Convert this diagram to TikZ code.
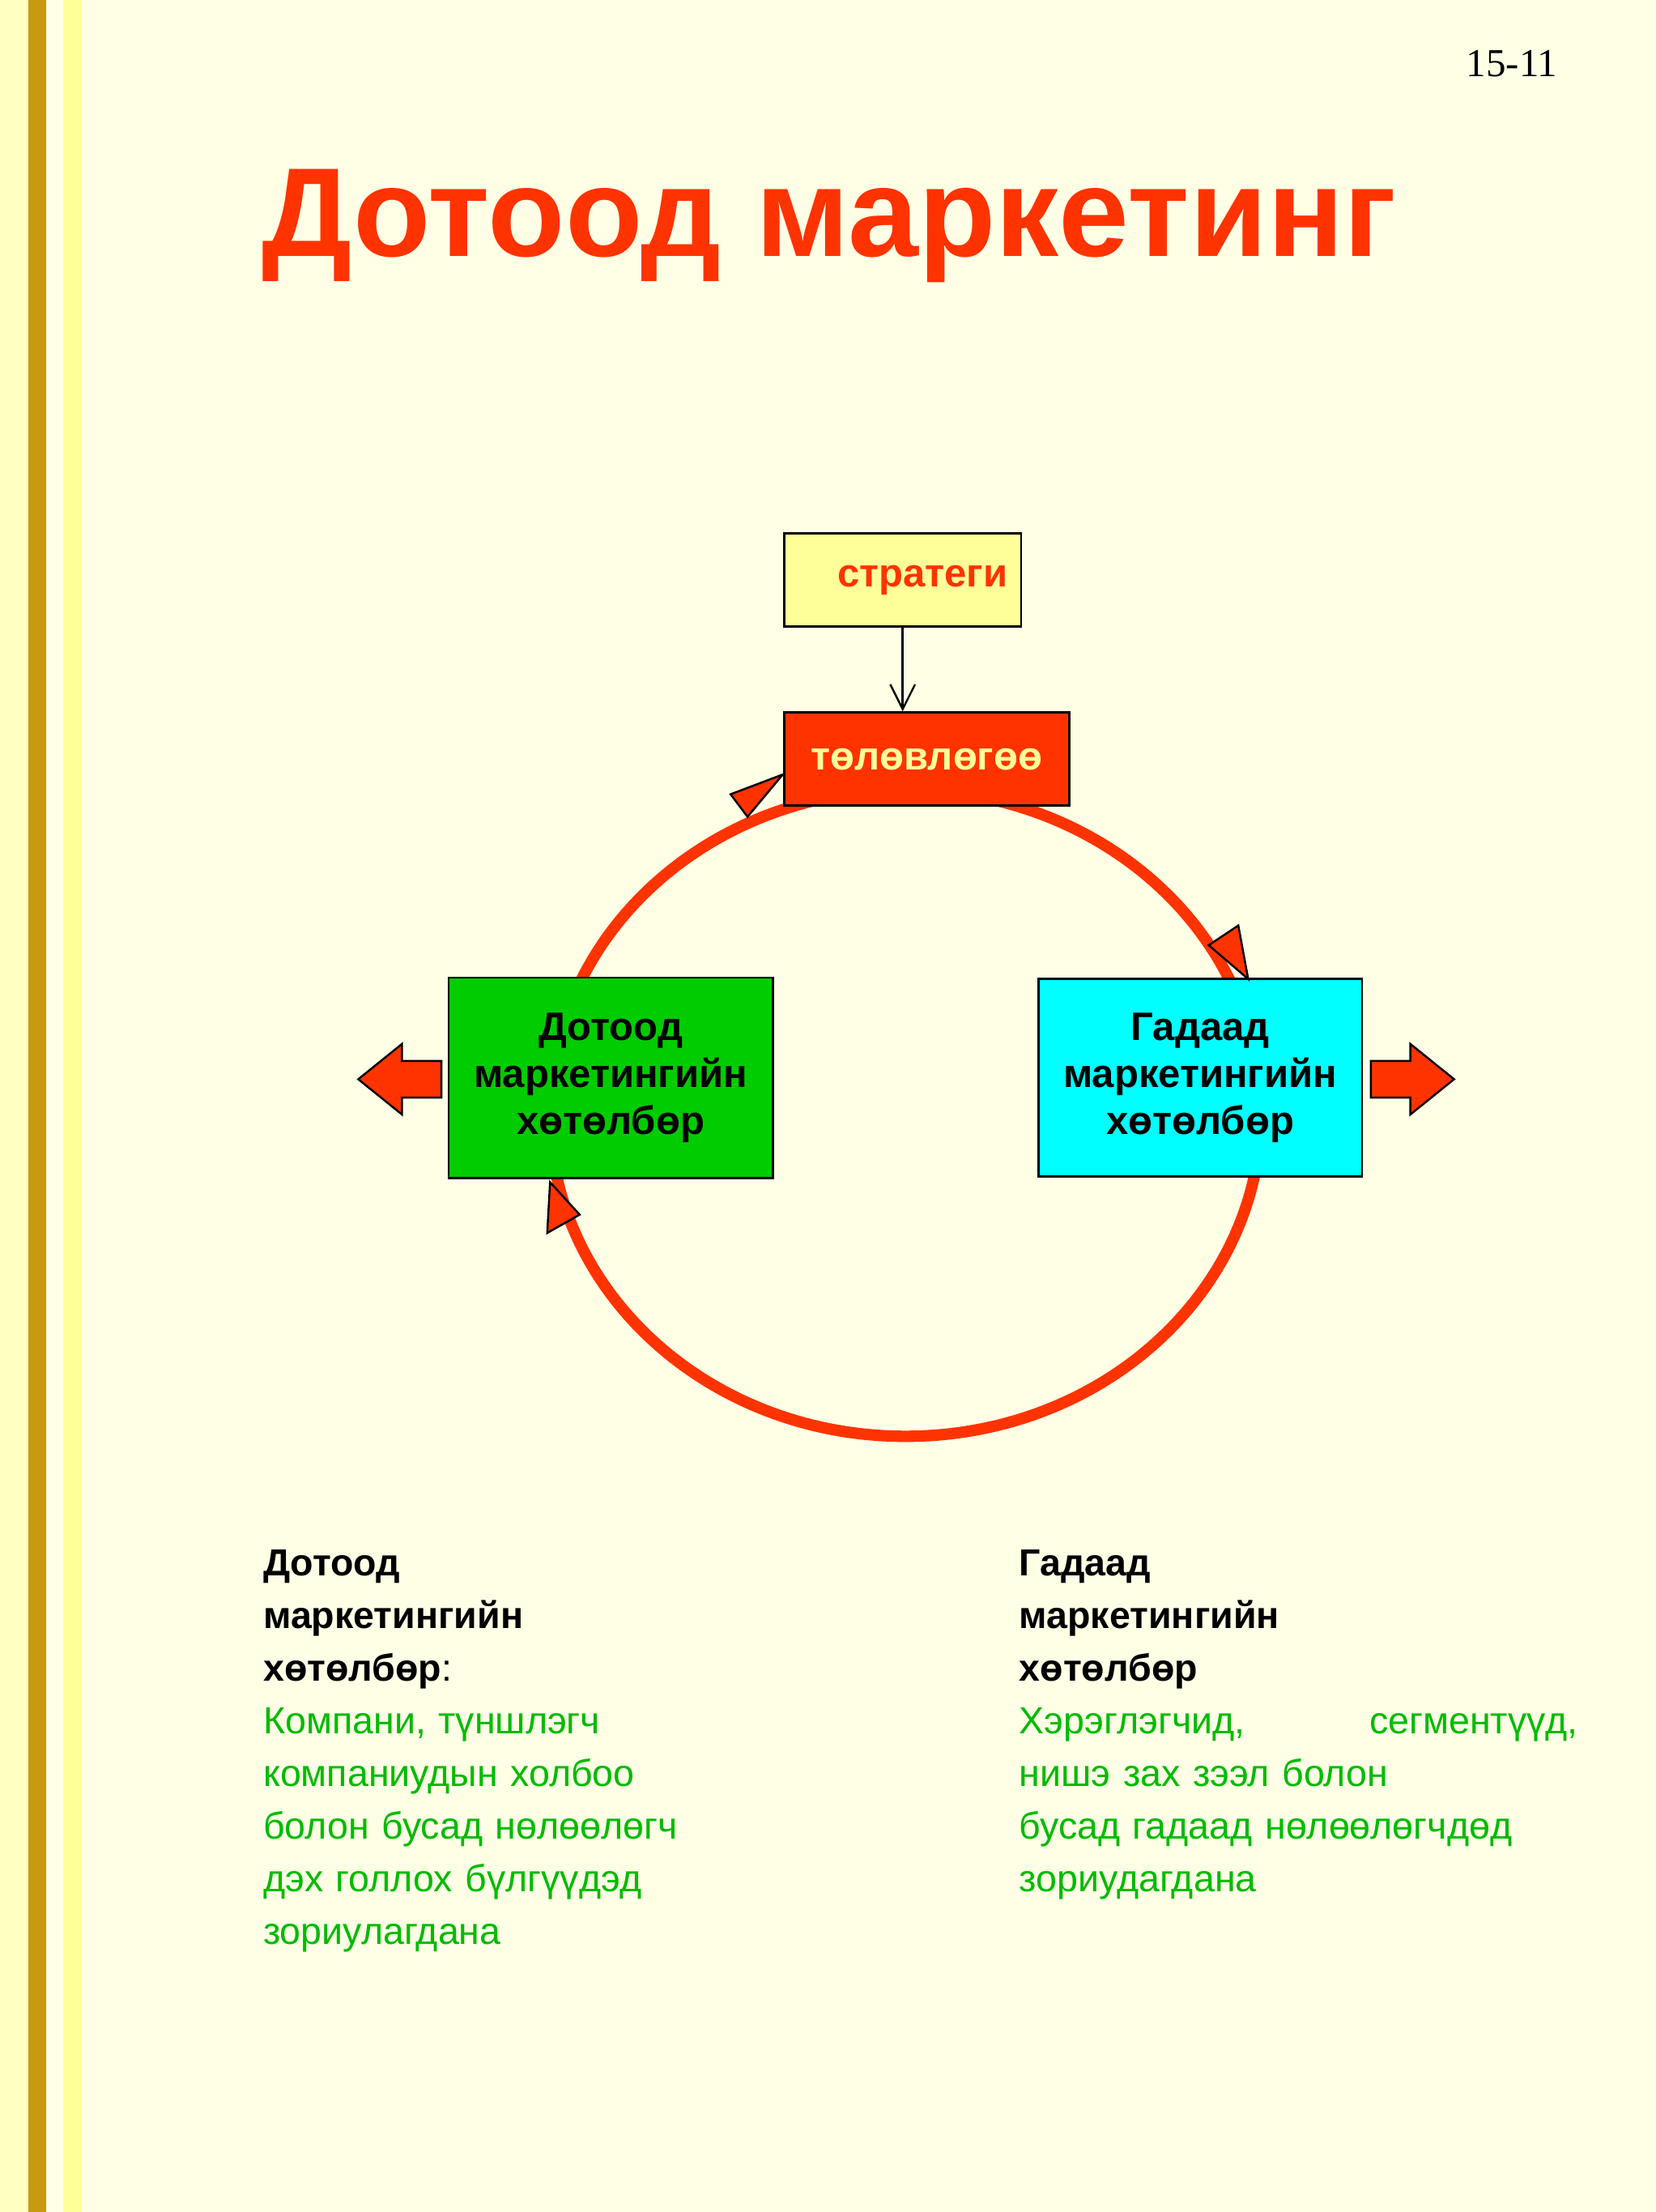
\documentclass[tikz,border=0pt]{standalone}
\usepackage{fontspec}
\setmainfont{Liberation Sans}
\newfontfamily\serifnum{Liberation Serif}
\usetikzlibrary{arrows.meta,positioning}
\definecolor{cream}{HTML}{FFFFE6}
\definecolor{gold}{HTML}{C89A10}
\definecolor{paleyel}{HTML}{FFFF99}
\definecolor{hotred}{HTML}{FF3300}
\definecolor{txtgreen}{HTML}{00BB00}
\definecolor{brightcyan}{HTML}{00FFFF}
\tikzset{
  box/.style={draw=black, line width=0.4pt, inner sep=0pt, font=\fontsize{8}{9.5}\selectfont\bfseries, align=center},
  tip/.style={fill=hotred, draw=black, line width=0.4pt},
  col/.style={anchor=north west, inner sep=0pt, align=left, font=\fontsize{7.6}{10.6}\selectfont}
}
\begin{document}
\begin{tikzpicture}[x=0.01cm, y=-0.01cm]
% page
\fill[cream] (0,0) rectangle (1174,1568);
\fill[paleyel!60] (0,0) rectangle (20,1568);
\fill[gold] (20,0) rectangle (33,1568);
\fill[paleyel] (45,0) rectangle (58,1568);
\useasboundingbox (0,0) rectangle (1174,1568);
% headings
\node[font=\serifnum\fontsize{8}{9}\selectfont] (page) at (1072,45) {15-11};
\node[anchor=west, inner sep=0pt, text=hotred, font=\fontsize{25.5}{28}\selectfont\bfseries] (title) at (185,160) {Дотоод маркетинг};
% cycle
\draw[hotred, line width=2.3pt] (642,789) ellipse [x radius=2.52cm, y radius=2.29cm];
\node[box, fill=paleyel, minimum width=1.68cm, minimum height=0.66cm, text=hotred] (strat) at (640,411) {\hspace{8pt}стратеги};
\node[box, fill=hotred, minimum width=2.02cm, minimum height=0.66cm, text=paleyel] (plan) at (657,538) {төлөвлөгөө};
\node[box, fill=green!80!black, minimum width=2.3cm, minimum height=1.42cm] (inner) at (433,764) {Дотоод\\маркетингийн\\хөтөлбөр};
\node[box, fill=brightcyan, minimum width=2.29cm, minimum height=1.4cm] (outer) at (851,764) {Гадаад\\маркетингийн\\хөтөлбөр};
\draw[-{Straight Barb[length=5pt,width=5pt]}] (strat.south -| 640,0) -- (plan.north -| 640,0);
% arrowheads on the cycle
\draw[tip] (555,549) -- (518,563) -- (530,579) -- cycle;
\draw[tip] (885,694) -- (857,670) -- (878,656) -- cycle;
\draw[tip] (390,838) -- (388,874) -- (411,861) -- cycle;
% side arrows
\draw[tip] (254,765) -- (285,740) -- (285,752) -- (313,752) -- (313,778) -- (285,778) -- (285,790) -- cycle;
\draw[tip] (1031,765) -- (1000,740) -- (1000,752) -- (972,752) -- (972,778) -- (1000,778) -- (1000,790) -- cycle;
% notes
\node[col, text width=3.4cm] (lnote) at (186,1098) {\textbf{Дотоод}\\\textbf{маркетингийн}\\\textbf{хөтөлбөр}:\\
\textcolor{txtgreen}{Компани, түншлэгч}\\\textcolor{txtgreen}{компаниудын холбоо}\\\textcolor{txtgreen}{болон бусад нөлөөлөгч}\\\textcolor{txtgreen}{дэх голлох бүлгүүдэд}\\\textcolor{txtgreen}{зориулагдана}};
\node[col, text width=3.96cm] (rnote) at (722,1098) {\textbf{Гадаад}\\\textbf{маркетингийн}\\\textbf{хөтөлбөр}\\
\textcolor{txtgreen}{Хэрэглэгчид,\hfill сегментүүд,}\\\textcolor{txtgreen}{нишэ зах зээл болон}\\\textcolor{txtgreen}{бусад гадаад нөлөөлөгчдөд}\\\textcolor{txtgreen}{зориудагдана}};
\end{tikzpicture}
\end{document}
